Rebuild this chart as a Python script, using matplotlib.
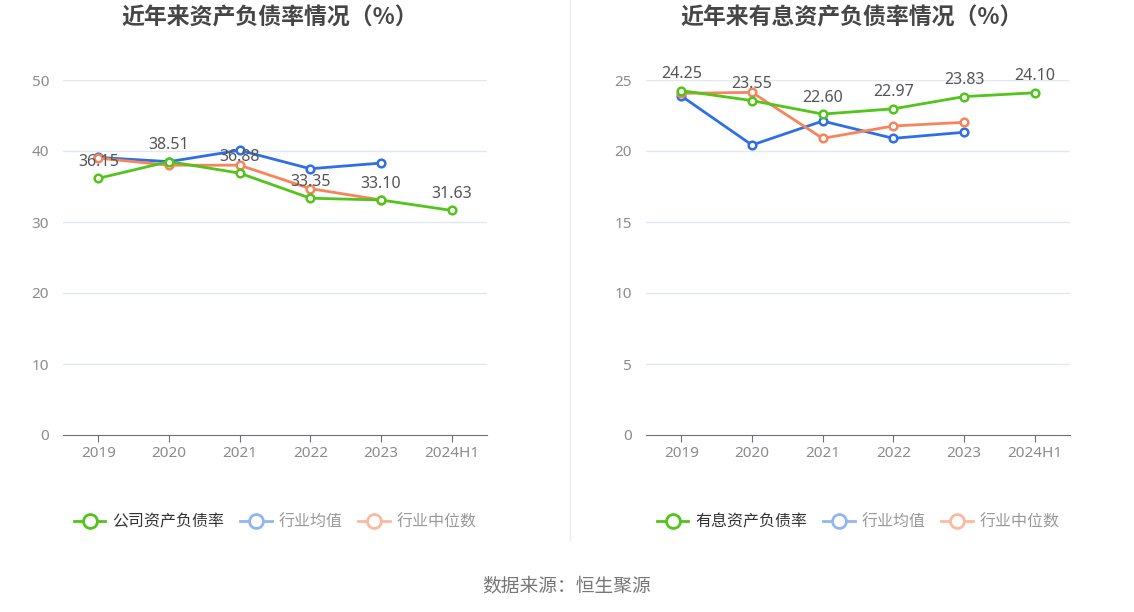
import matplotlib
matplotlib.use("Agg")
import matplotlib.pyplot as plt
from matplotlib.lines import Line2D

plt.rcParams['font.family'] = ['Noto Sans', 'Noto Sans CJK SC', 'DejaVu Sans']

years = ['2019', '2020', '2021', '2022', '2023', '2024H1']

left_title = '近年来资产负债率情况（%）'
left_company = [36.15, 38.51, 36.88, 33.35, 33.10, 31.63]
left_avg = [39.1, 38.5, 40.1, 37.5, 38.3]
left_median = [39.0, 38.0, 38.0, 34.7, 33.1]
left_names = ['公司资产负债率', '行业均值', '行业中位数']

right_title = '近年来有息资产负债率情况（%）'
right_company = [24.25, 23.55, 22.60, 22.97, 23.83, 24.10]
right_avg = [23.87, 20.42, 22.11, 20.89, 21.32]
right_median = [24.06, 24.13, 20.89, 21.76, 22.02]
right_names = ['有息资产负债率', '行业均值', '行业中位数']

source = '数据来源：恒生聚源'

W, H = 1134, 612
fig = plt.figure(figsize=(W / 100, H / 100), dpi=100)

GREEN = '#52c41a'
BLUE = '#2f6fe6'
ORANGE = '#f7845a'
GRID = '#e3e7f0'
TICK = '#8c8c8c'
CJK = ['Noto Sans CJK SC', 'DejaVu Sans']


def px_axes(x0, y0, x1, y1):
    return fig.add_axes([x0 / W, 1 - y1 / H, (x1 - x0) / W, (y1 - y0) / H])


def draw(ax, company, avg, median, ymax, ystep, title, names, cx):
    x = list(range(len(years)))
    ax.set_xlim(-0.5, len(years) - 0.5)
    ax.set_ylim(0, ymax)
    ticks = list(range(0, ymax + 1, ystep))
    ax.set_yticks(ticks)
    ax.set_xticks(x)
    ax.set_xticklabels(years)
    for t in ticks[1:]:
        ax.axhline(t, color=GRID, lw=1, zorder=0)
    for s in ['top', 'right', 'left']:
        ax.spines[s].set_visible(False)
    ax.spines['bottom'].set_color('#6e7079')
    ax.tick_params(axis='y', length=0, colors=TICK, labelsize=11, pad=10)
    ax.tick_params(axis='x', length=5, colors=TICK, labelsize=11, pad=3)
    ax.tick_params(axis='x', color='#6e7079')
    mk = dict(marker='o', markersize=5.5, markerfacecolor='white', markeredgewidth=1.8, lw=2)
    ax.plot(x[:len(avg)], avg, color=BLUE, zorder=3, **mk)
    ax.plot(x[:len(median)], median, color=ORANGE, zorder=3, **mk)
    ax.plot(x, company, color=GREEN, zorder=4, **mk)
    for xi, v in zip(x, company):
        ax.annotate(f'{v:.2f}', (xi, v), xytext=(0, 6), textcoords='offset points',
                    ha='center', va='bottom', fontsize=11.5, color='#555555', zorder=5)
    fig.text(cx / W, 1 - 18 / H, title, ha='center', va='center', fontsize=16.5,
             fontweight='bold', color='#464646', family=CJK)
    lmk = dict(marker='o', markersize=10, markerfacecolor='white', markeredgewidth=2, lw=2)
    handles = [
        Line2D([], [], color=GREEN, **lmk),
        Line2D([], [], color='#93b5f2', **lmk),
        Line2D([], [], color='#fbb9a0', **lmk),
    ]
    leg = ax.legend(handles, names, loc='center', bbox_to_anchor=(0.5, -0.245), ncol=3,
                    frameon=False, prop={'family': CJK, 'size': 11.5}, handlelength=2.0,
                    handletextpad=0.4, columnspacing=1.0)
    cols = ['#333333', '#999999', '#999999']
    for t, c in zip(leg.get_texts(), cols):
        t.set_color(c)


axL = px_axes(63, 80, 487, 435)
draw(axL, left_company, left_avg, left_median, 50, 10, left_title, left_names, 270)
axR = px_axes(646, 80, 1070, 435)
draw(axR, right_company, right_avg, right_median, 25, 5, right_title, right_names, 852)

fig.add_artist(Line2D([570 / W, 570 / W], [1 - 0 / H, 1 - 540 / H], color='#ebebeb', lw=1))
fig.text(567 / W, 1 - 586 / H, source, ha='center', va='center', fontsize=13.5,
         color='#777777', family=CJK)

fig.savefig('out.png', dpi=100, facecolor='white')
